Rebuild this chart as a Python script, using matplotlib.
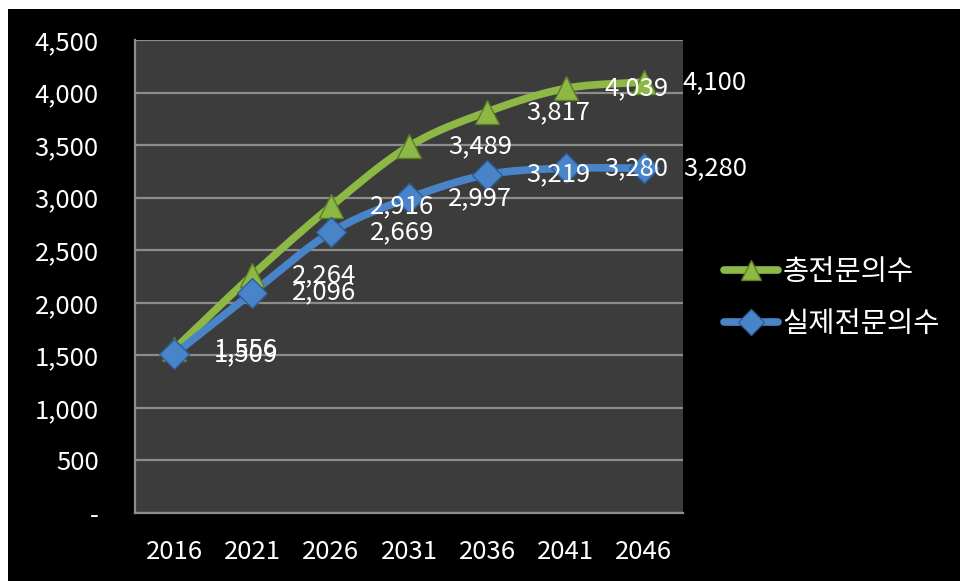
import matplotlib
matplotlib.use("Agg")
import matplotlib.pyplot as plt
import matplotlib.patches as mpatches
from matplotlib.ticker import FuncFormatter
import numpy as np

plt.rcParams['font.family'] = ['Noto Sans CJK KR', 'DejaVu Sans']

years = ['2016', '2021', '2026', '2031', '2036', '2041', '2046']
total = [1556, 2264, 2916, 3489, 3817, 4039, 4100]
actual = [1509, 2096, 2669, 2997, 3219, 3280, 3280]
names = ['총전문의수', '실제전문의수']

green = '#8db846'
blue = '#4a84c8'
fs = 18.5


def smooth(xs, ys, n=30):
    # Catmull-Rom curve through the points, like a smoothed office line chart
    xs = np.asarray(xs, float)
    ys = np.asarray(ys, float)
    px = np.concatenate([[2 * xs[0] - xs[1]], xs, [2 * xs[-1] - xs[-2]]])
    py = np.concatenate([[2 * ys[0] - ys[1]], ys, [2 * ys[-1] - ys[-2]]])
    out_x, out_y = [], []
    t = np.linspace(0, 1, n)
    for i in range(1, len(px) - 2):
        for p, out in ((px, out_x), (py, out_y)):
            p0, p1, p2, p3 = p[i - 1], p[i], p[i + 1], p[i + 2]
            out.extend(0.5 * ((2 * p1) + (-p0 + p2) * t
                              + (2 * p0 - 5 * p1 + 4 * p2 - p3) * t ** 2
                              + (-p0 + 3 * p1 - 3 * p2 + p3) * t ** 3))
    return np.array(out_x), np.array(out_y)


fig = plt.figure(figsize=(9.6, 5.81), dpi=100)
fig.patch.set_facecolor('white')
fig.patches.append(mpatches.Rectangle((8 / 960, 0), 1, 1 - 9 / 581,
                                      transform=fig.transFigure,
                                      facecolor='black', edgecolor='none', zorder=-10))

ax = fig.add_axes([135 / 960, 68 / 581, 548 / 960, 473 / 581])
ax.set_facecolor('#3c3c3c')

x = np.arange(len(years))
for vals, col, mk, ms, ec in ((total, green, '^', 17, '#5d7d25'),
                              (actual, blue, 'D', 15, '#2c5d97')):
    sx, sy = smooth(x, vals)
    ax.plot(sx, sy, color=col, lw=5.5, solid_capstyle='round', zorder=3)
    ax.plot(x, vals, ls='none', marker=mk, ms=ms, mfc=col, mec=ec, mew=1, zorder=4)
    for xi, v in zip(x, vals):
        ax.text(xi + 0.5, v, f'{v:,}', color='white', fontsize=fs,
                ha='left', va='center', zorder=5, clip_on=False)

ax.set_xlim(-0.5, len(years) - 0.5)
ax.set_ylim(0, 4500)
ax.set_yticks(np.arange(0, 4501, 500))
ax.yaxis.set_major_formatter(FuncFormatter(lambda v, p: '-' if v == 0 else f'{int(v):,}'))
ax.set_xticks(x)
ax.set_xticklabels(years)
ax.tick_params(colors='white', labelsize=fs, length=0)
ax.tick_params(axis='y', pad=26)
ax.tick_params(axis='x', pad=19)
ax.grid(axis='y', color='#8c8c8c', lw=1.6)
ax.set_axisbelow(True)
for side in ('top', 'right'):
    ax.spines[side].set_visible(False)
for side in ('left', 'bottom'):
    ax.spines[side].set_color('#8c8c8c')
    ax.spines[side].set_linewidth(1.6)

handles = [plt.Line2D([], [], color=green, lw=5.5, marker='^', ms=15, mfc=green,
                      mec='#5d7d25', solid_capstyle='round'),
           plt.Line2D([], [], color=blue, lw=5.5, marker='D', ms=13, mfc=blue,
                      mec='#2c5d97', solid_capstyle='round')]
fig.legend(handles, names, loc='center left', bbox_to_anchor=(724 / 960, 1 - 298 / 581),
           frameon=False, fontsize=20.5, labelcolor='white', handlelength=1.9,
           handletextpad=0.15, labelspacing=0.8, borderpad=0, borderaxespad=0)

fig.savefig('out.png', dpi=100, facecolor=fig.get_facecolor())
